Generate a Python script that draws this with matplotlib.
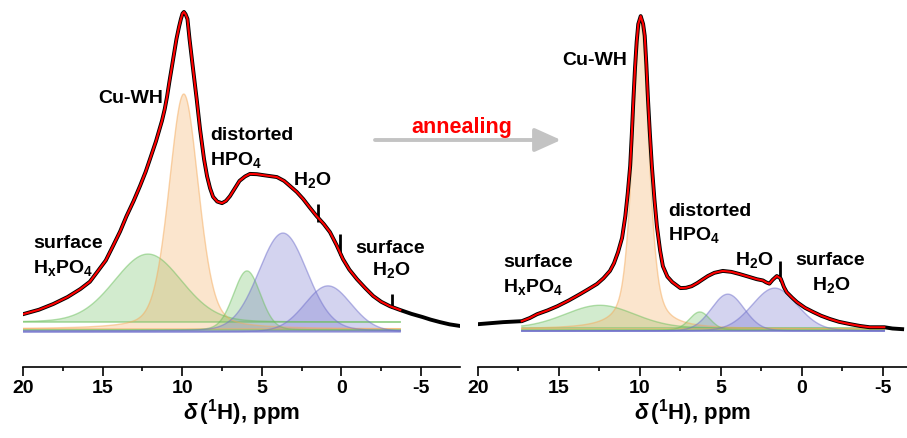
"""
1H MAS NMR spectra of Cu-WH before and after annealing, with peak deconvolution.
"""

import numpy as np
import matplotlib
matplotlib.use("Agg")
import matplotlib.pyplot as plt
from matplotlib.ticker import MultipleLocator

plt.rcParams["font.family"] = ["Liberation Sans", "DejaVu Sans"]
plt.rcParams["font.weight"] = "bold"
plt.rcParams["axes.unicode_minus"] = False
plt.rcParams["mathtext.fontset"] = "custom"
plt.rcParams["mathtext.rm"] = "Liberation Sans:bold"
plt.rcParams["mathtext.bf"] = "Liberation Sans:bold"
plt.rcParams["mathtext.it"] = "Liberation Sans:italic"

# -----------------------------
# Data (intensity normalised, main peak ~100)
# -----------------------------
# before annealing: measured spectrum
left_ppm = [20.0, 19.0, 18.1, 17.2, 16.4, 15.8, 15.35, 14.8, 14.35, 13.9,
            13.5, 13.05, 12.65, 12.3, 12.02, 11.65, 11.27, 11.1, 10.95, 10.8,
            10.64, 10.36, 10.2, 10.08, 9.98, 9.89, 9.79, 9.67, 9.54, 9.34,
            9.09, 8.88, 8.63, 8.44, 8.25, 8.06, 7.8, 7.5, 7.25, 7.0,
            6.7, 6.4, 6.05, 5.74, 5.3, 4.9, 4.05, 3.6, 3.23, 2.8,
            2.4, 2.0, 1.55, 1.1, 0.72, 0.3, -0.1, -0.5, -0.98, -1.5,
            -2.0, -2.5, -3.05, -3.7, -4.4, -5.1, -5.6, -6.2, -6.8, -7.45]
left_int = [5.0, 6.4, 8.2, 10.4, 12.9, 15.2, 18.2, 21.9, 26.4, 31.0,
            35.8, 40.6, 45.3, 49.7, 53.8, 59.3, 65.8, 69.4, 73.4, 78.2,
            83.0, 91.5, 95.3, 97.8, 99.5, 100.0, 99.3, 97.8, 91.5, 83.0,
            72.6, 63.2, 53.8, 48.4, 44.6, 41.9, 40.4, 39.9, 40.6, 42.1,
            44.5, 46.9, 48.3, 49.1, 49.0, 48.7, 48.1, 46.9, 45.3, 43.4,
            41.2, 38.6, 35.8, 33.3, 30.8, 26.7, 22.3, 19.0, 16.0, 13.2,
            10.7, 8.9, 7.5, 6.3, 5.1, 4.1, 3.3, 2.5, 1.8, 1.3]
left_fit_range = (20.0, -3.7)
left_spike_ppm = [1.47, 0.10, -3.2]
left_spike_lo = [34.0, 23.5, 6.8]
left_spike_hi = [39.6, 30.2, 11.3]

# before annealing: fitted components
left_names = ["HxPO4", "Cu-WH", "HPO4", "H2O", "surface H2O"]
left_centers = [12.15, 9.9, 5.93, 3.67, 0.84]
left_widths = [5.0, 2.2, 2.0, 3.6, 3.45]
left_heights = [21.4, 73.9, 18.6, 30.8, 14.5]
left_lorentz = [0.1, 0.3, 0.1, 0.1, 0.1]
left_bases = [2.5, 0.3, 0.0, -0.3, -0.6]
left_comp_range = (20.0, -3.7)

# after annealing: measured spectrum
right_ppm = [19.9, 18.45, 17.3, 16.8, 16.35, 15.7, 15.1, 14.4, 13.7, 13.2,
             12.65, 12.25, 11.85, 11.6, 11.35, 11.1, 10.9, 10.75, 10.6, 10.5,
             10.4, 10.3, 10.2, 10.1, 9.95, 9.8, 9.7, 9.6, 9.5, 9.38,
             9.26, 9.1, 8.95, 8.75, 8.58, 8.3, 8.0, 7.5, 7.15, 6.8,
             6.45, 6.1, 5.8, 5.4, 4.88, 4.35, 3.83, 3.3, 2.78, 2.4,
             2.2, 2.0, 1.8, 1.54, 1.3, 1.1, 0.93, 0.6, 0.3, -0.2,
             -0.7, -1.2, -1.73, -2.3, -2.96, -3.6, -4.2, -5.1, -5.6, -6.2]
right_int = [1.9, 2.5, 2.8, 3.8, 5.0, 6.2, 7.5, 9.3, 11.3, 12.8,
             14.5, 16.3, 18.6, 21.0, 24.5, 29.0, 35.8, 43.0, 51.6, 61.5,
             72.6, 82.5, 90.6, 96.2, 98.7, 96.2, 92.5, 83.5, 72.6, 61.5,
             51.6, 41.0, 32.7, 25.0, 20.1, 16.8, 15.1, 13.2, 13.3, 13.8,
             14.8, 16.0, 17.0, 18.0, 18.6, 18.3, 17.6, 16.8, 16.0, 15.6,
             15.0, 14.6, 15.8, 17.0, 16.2, 13.5, 11.9, 10.2, 8.8, 7.0,
             5.7, 4.5, 3.5, 2.6, 1.9, 1.3, 0.9, 0.9, 0.5, 0.3]
right_fit_range = (17.3, -5.1)
right_spike_ppm = [1.36]
right_spike_lo = [15.5]
right_spike_hi = [21.7]

# after annealing: fitted components
right_names = ["HxPO4", "Cu-WH", "HPO4", "H2O", "surface H2O"]
right_centers = [12.47, 9.95, 6.3, 4.57, 1.67]
right_widths = [5.1, 1.2, 1.5, 2.4, 3.3]
right_heights = [7.2, 96.0, 5.7, 11.6, 13.5]
right_lorentz = [0.1, 0.5, 0.1, 0.1, 0.1]
right_bases = [0.6, 0.3, 0.0, -0.3, -0.3]
right_comp_range = (17.3, -5.1)

comp_colors = ["#6cc05e", "#f5ab5c", "#6cc05e", "#7070cc", "#7070cc"]

# -----------------------------
# Helpers
# -----------------------------
W, H = 907, 439


def pvoigt(x, c, w, h, eta):
    g = np.exp(-4 * np.log(2) * ((x - c) / w) ** 2)
    lor = 1.0 / (1 + 4 * ((x - c) / w) ** 2)
    return h * ((1 - eta) * g + eta * lor)


def label(fig, x, y, s, **kw):
    # x, y in pixels from top-left, y is the text baseline
    fig.text(x / W, 1 - y / H, s, ha="left", va="baseline",
             fontsize=14, fontweight="bold", **kw)


def draw_panel(ax, ppm, inten, fit_range, sp_ppm, sp_lo, sp_hi,
               centers, widths, heights, lorentz, bases, comp_range, xlim):
    x = np.linspace(comp_range[0], comp_range[1], 800)
    for c, w, h, eta, b, col in zip(centers, widths, heights, lorentz, bases, comp_colors):
        y = b + pvoigt(x, c, w, h, eta)
        ax.fill_between(x, b, y, facecolor=col, alpha=0.3, edgecolor="none")
        ax.plot(x, y, color=col, alpha=0.5, lw=1.0)
        ax.plot(x, np.full_like(x, b), color=col, alpha=0.55, lw=1.2)

    ppm = np.asarray(ppm)
    inten = np.asarray(inten)
    ax.plot(ppm, inten, color="black", lw=2.8, solid_joinstyle="round", zorder=5)
    ax.vlines(sp_ppm, sp_lo, sp_hi, color="black", lw=2.0, zorder=5)
    m = (ppm <= fit_range[0]) & (ppm >= fit_range[1])
    ax.plot(ppm[m], inten[m], color="#ff0000", lw=1.5, zorder=6)

    ax.set_xlim(*xlim)
    ax.set_ylim(-11.6, 102.5)
    for s in ["left", "right", "top"]:
        ax.spines[s].set_visible(False)
    ax.spines["bottom"].set_linewidth(1.2)
    ax.set_yticks([])
    ax.xaxis.set_major_locator(MultipleLocator(5))
    ax.xaxis.set_minor_locator(MultipleLocator(2.5))
    ax.tick_params(axis="x", which="major", direction="out", length=6.5, width=1.2,
                   labelsize=14, pad=2)
    ax.tick_params(axis="x", which="minor", direction="out", length=3.2, width=1.2)
    for t in ax.get_xticklabels():
        t.set_fontweight("bold")
    ax.set_xlabel(r"$\mathit{\delta}\,(^{\mathbf{1}}$H), ppm", fontsize=16,
                  fontweight="bold", labelpad=0)
    ax.patch.set_alpha(0)


# -----------------------------
# Figure
# -----------------------------
fig = plt.figure(figsize=(W / 100, H / 100), dpi=100)
ax1 = fig.add_axes([23 / W, 71 / H, 437 / W, 363 / H])
ax2 = fig.add_axes([478 / W, 71 / H, 429 / W, 363 / H])

draw_panel(ax1, left_ppm, left_int, left_fit_range, left_spike_ppm, left_spike_lo,
           left_spike_hi, left_centers, left_widths, left_heights, left_lorentz,
           left_bases, left_comp_range, (20, -7.45))
draw_panel(ax2, right_ppm, right_int, right_fit_range, right_spike_ppm, right_spike_lo,
           right_spike_hi, right_centers, right_widths, right_heights, right_lorentz,
           right_bases, right_comp_range, (20, -6.5))

# left panel labels
label(fig, 98, 103, "Cu-WH")
label(fig, 210, 140, "distorted")
label(fig, 210, 165, r"HPO$_\mathbf{4}$")
label(fig, 293, 185, r"H$_\mathbf{2}$O")
label(fig, 33, 248, "surface")
label(fig, 33, 273, r"H$_\mathbf{x}$PO$_\mathbf{4}$")
label(fig, 355, 253, "surface")
label(fig, 372, 275, r"H$_\mathbf{2}$O")

# right panel labels
label(fig, 562, 65, "Cu-WH")
label(fig, 668, 216, "distorted")
label(fig, 668, 240, r"HPO$_\mathbf{4}$")
label(fig, 735, 265, r"H$_\mathbf{2}$O")
label(fig, 795, 265, "surface")
label(fig, 812, 290, r"H$_\mathbf{2}$O")
label(fig, 503, 267, "surface")
label(fig, 503, 292, r"H$_\mathbf{x}$PO$_\mathbf{4}$")

# annealing arrow
fig.text(462 / W, 1 - 133 / H, "annealing", color="#ff0000", ha="center",
         va="baseline", fontsize=15.5, fontweight="bold")
ax1.annotate("", xy=(561 / W, 1 - 141 / H), xytext=(375 / W, 1 - 141 / H),
             xycoords="figure fraction", textcoords="figure fraction",
             arrowprops=dict(arrowstyle="-|>,head_length=1.0,head_width=0.45",
                             color="#c3c3c3", lw=2.8, mutation_scale=16,
                             shrinkA=0, shrinkB=0))

fig.savefig("out.png", dpi=100)
